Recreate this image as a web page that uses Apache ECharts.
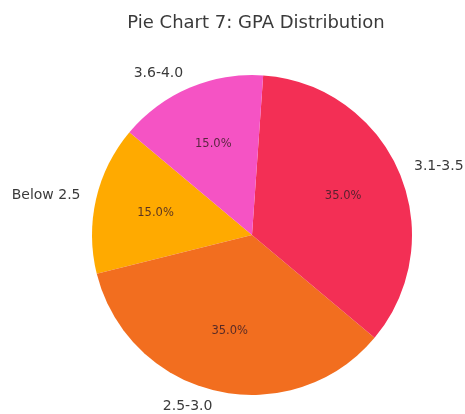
<!DOCTYPE html>
<html>
<head>
<meta charset="utf-8">
<script src="https://cdn.jsdelivr.net/npm/echarts@6/dist/echarts.min.js"></script>
<style>
html,body{margin:0;padding:0;background:#fff;}
#chart{width:465px;height:414px;}
</style>
</head>
<body>
<div id="chart"></div>
<script>
const categories = ['Below 2.5', '2.5-3.0', '3.1-3.5', '3.6-4.0'];
const values = [15, 35, 35, 15];
const colors = ['#FFAA00', '#F26E1F', '#F32F55', '#F553C4'];
const titleText = 'Pie Chart 7: GPA Distribution';

const total = values.reduce((a, b) => a + b, 0);
const cx = 252, cy = 235, R = 160;
const font = 'DejaVu Sans';

const chart = echarts.init(document.getElementById('chart'), null, {renderer: 'canvas'});
chart.setOption({
  animation: false,
  backgroundColor: '#ffffff',
  title: {
    text: titleText,
    left: 251, top: 9, textAlign: 'center',
    textStyle: {fontFamily: font, fontSize: 18, fontWeight: 'normal', color: '#3a3a3a'}
  },
  series: [
    {
      type: 'pie',
      center: [cx, cy],
      radius: [0, R],
      startAngle: 140,
      clockwise: false,
      avoidLabelOverlap: false,
      silent: true,
      data: categories.map((c, i) => ({name: c, value: values[i], itemStyle: {color: colors[i]}})),
      label: {
        show: true, position: 'outside', formatter: '{b}',
        fontFamily: font, fontSize: 14, color: '#3a3a3a',
        distanceToLabelLine: 0
      },
      labelLine: {show: false, length: 16, length2: 0},
      emphasis: {disabled: true}
    },
    {
      type: 'pie',
      center: [cx, cy],
      radius: [R * 0.2, R],
      startAngle: 140,
      clockwise: false,
      avoidLabelOverlap: false,
      silent: true,
      z: 3,
      data: categories.map((c, i) => ({name: c, value: values[i], itemStyle: {color: 'rgba(0,0,0,0)'}})),
      label: {
        show: true, position: 'inside',
        formatter: p => (p.value / total * 100).toFixed(1) + '%',
        fontFamily: font, fontSize: 11.5, color: 'rgba(60,30,40,0.85)'
      },
      labelLine: {show: false},
      emphasis: {disabled: true}
    }
  ]
});
</script>
</body>
</html>
